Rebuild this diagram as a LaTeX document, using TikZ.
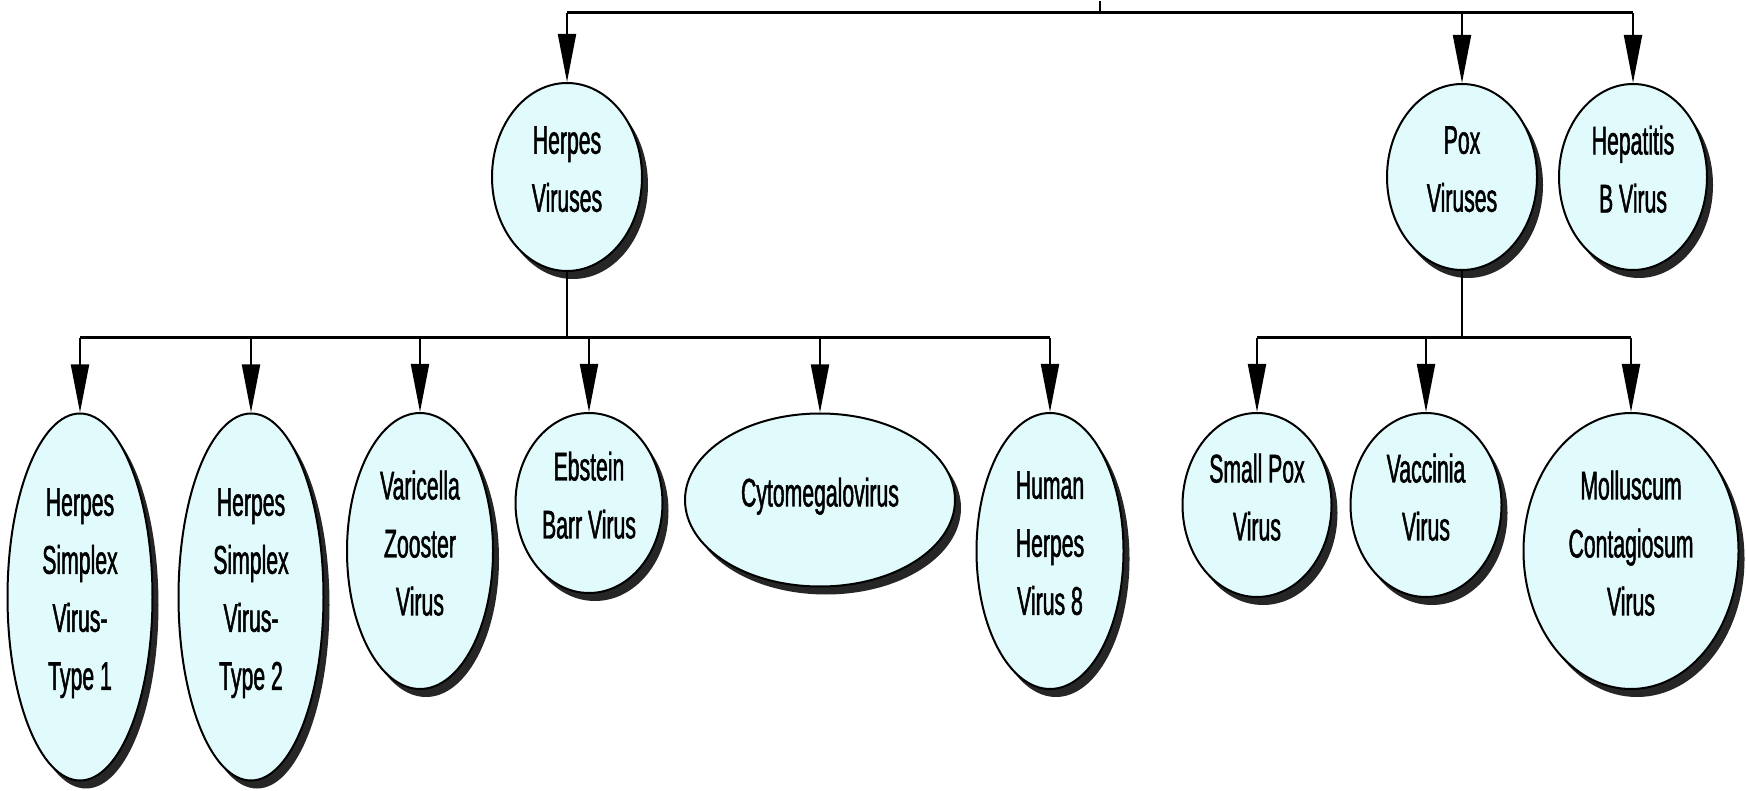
\documentclass[tikz,border=0pt]{standalone}
\usepackage{fontspec}
\setmainfont[FakeStretch=0.53,FakeBold=1.2]{Liberation Sans}
\usetikzlibrary{arrows.meta,shapes.geometric,shadows}
\definecolor{virusfill}{RGB}{225,250,252}
\begin{document}
\begin{tikzpicture}[x=1pt,y=-1pt,
    virus/.style={ellipse, draw=black, line width=2pt, fill=virusfill, inner sep=0pt,
      align=center, font=\fontsize{40}{58}\selectfont, text depth=16pt,
      drop shadow={shadow xshift=6pt, shadow yshift=-8pt, opacity=1, fill=black!85}},
    bus/.style={line width=3pt},
    link/.style={line width=2pt},
    arr/.style={line width=2pt, -{Triangle[length=48pt,width=18pt]}}]
    \path[fill=white] (0,0) rectangle (1746,790);
    % Nodes:
    \node[virus, minimum width=150pt, minimum height=188pt] (herpesV) at (567,176) {Herpes\\Viruses};
    \node[virus, minimum width=150pt, minimum height=186pt] (poxV) at (1462,176) {Pox\\Viruses};
    \node[virus, minimum width=148pt, minimum height=186pt] (hepB) at (1633,176) {Hepatitis\\B Virus};
    \node[virus, minimum width=145pt, minimum height=367pt] (hsvA) at (80,596) {Herpes\\Simplex\\Virus-\\Type 1};
    \node[virus, minimum width=145pt, minimum height=367pt] (hsvB) at (251,596) {Herpes\\Simplex\\Virus-\\Type 2};
    \node[virus, minimum width=146pt, minimum height=276pt] (vzv) at (420,550) {Varicella\\Zooster\\Virus};
    \node[virus, minimum width=147pt, minimum height=180pt] (ebv) at (589,502) {Ebstein\\Barr Virus};
    \node[virus, minimum width=270pt, minimum height=173pt] (cmv) at (820,499) {Cytomegalovirus};
    \node[virus, minimum width=147pt, minimum height=276pt] (hhv) at (1050,550) {Human\\Herpes\\Virus 8};
    \node[virus, minimum width=149pt, minimum height=184pt] (spox) at (1257,504) {Small Pox\\Virus};
    \node[virus, minimum width=151pt, minimum height=184pt] (vacc) at (1426,504) {Vaccinia\\Virus};
    \node[virus, minimum width=215pt, minimum height=276pt] (mcv) at (1631,550) {Molluscum\\Contagiosum\\Virus};
    % Buses and arrows:
    \coordinate (root) at (1100,0);
    \coordinate (topbus) at (1100,12);
    \coordinate (hbus) at (567,337);
    \coordinate (pbus) at (1462,337);
    \draw[link] (root) -- (topbus);
    \draw[bus] (herpesV.north |- topbus) -- (hepB.north |- topbus);
    \foreach \n in {herpesV,poxV,hepB}
      \draw[arr] (\n.north |- topbus) -- (\n.north);
    \draw[link] (herpesV.south) -- (hbus);
    \draw[bus] (hsvA.north |- hbus) -- (hhv.north |- hbus);
    \foreach \n in {hsvA,hsvB,vzv,ebv,cmv,hhv}
      \draw[arr] (\n.north |- hbus) -- (\n.north);
    \draw[link] (poxV.south) -- (pbus);
    \draw[bus] (spox.north |- pbus) -- (mcv.north |- pbus);
    \foreach \n in {spox,vacc,mcv}
      \draw[arr] (\n.north |- pbus) -- (\n.north);
    \useasboundingbox (0,0) rectangle (1746,790);
\end{tikzpicture}
\end{document}
